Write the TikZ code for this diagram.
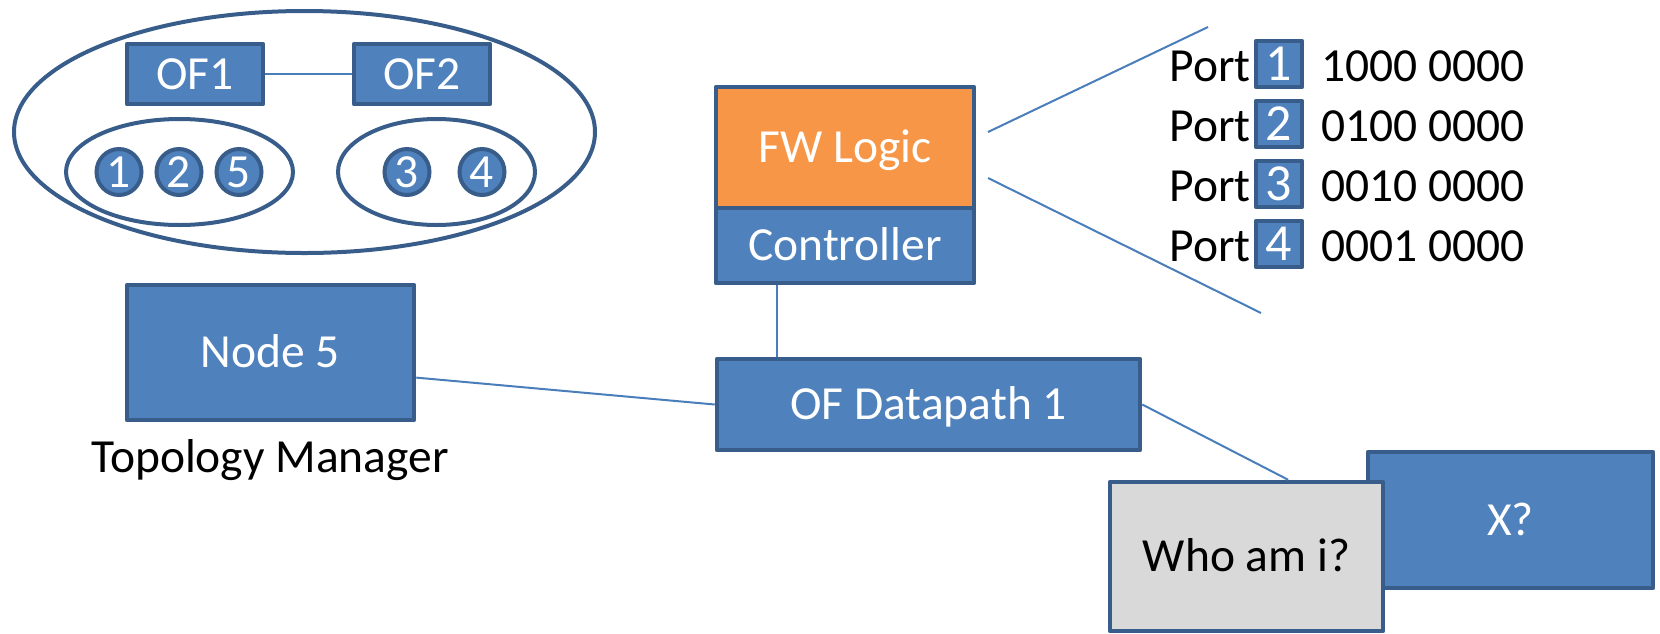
\documentclass[tikz,border=0pt]{standalone}
\usepackage{fontspec}
\setmainfont{Carlito}
\usetikzlibrary{shapes.geometric,calc}
\definecolor{ofblue}{HTML}{4F81BD}
\definecolor{bord}{HTML}{385D8A}
\definecolor{lnblue}{HTML}{4A7EBB}
\definecolor{fworange}{HTML}{F79646}
\definecolor{whogray}{HTML}{D9D9D9}
\newcommand\bigtxt{\fontsize{47.5}{57}\selectfont}
\newcommand\digtxt{\fontsize{52}{62}\selectfont}
\begin{document}
\begin{tikzpicture}[x=1pt,y=-1pt,
  ofbox/.style={draw=bord, line width=4.5pt, line join=round, inner sep=0pt, font=\bigtxt, text height=30.6pt, text depth=0pt},
  bluebox/.style={ofbox, fill=ofblue, text=white},
  ring/.style={ellipse, draw=bord, line width=4pt, inner sep=0pt},
  numdot/.style={ellipse, draw=bord, fill=ofblue, line width=4pt, inner sep=0pt, minimum width=45pt, minimum height=46pt, text=white, font=\bigtxt, text height=30pt, text depth=0pt},
  conn/.style={draw=lnblue, line width=2pt},
  plaintxt/.style={inner sep=0pt, font=\bigtxt, text height=30.6pt, text depth=0pt},
  portbox/.style={bluebox, minimum width=46pt, minimum height=46pt, font=\digtxt, text height=33pt}
]
\useasboundingbox (0,0) rectangle (1660,633);

% topology ellipse group
\node[ring, minimum width=581pt, minimum height=242pt] (outer) at (304.5,132) {};
\node[ring, minimum width=227pt, minimum height=106pt] (grpA) at (179.5,172) {};
\node[ring, minimum width=197pt, minimum height=106pt] (grpB) at (436.5,172) {};
\node[numdot] (c1) at (119,172) {1};
\node[numdot] (c2) at (179,172) {2};
\node[numdot] (c5) at (239,172) {5};
\node[numdot] (c3) at (407,172) {3};
\node[numdot] (c4) at (482,172) {4};
\node[bluebox, minimum width=136pt, minimum height=60pt] (of1) at (195,74) {OF1};
\node[bluebox, minimum width=136pt, minimum height=60pt] (of2) at (422,74) {OF2};
\draw[conn] (of1.east) -- (of2.west);

% controller stack
\node[ofbox, fill=fworange, text=white, minimum width=258pt, minimum height=121pt] (fw) at (845,147.5) {FW Logic};
\node[bluebox, minimum width=258pt, minimum height=75pt] (ctrl) at (845,245.5) {Controller};

% zoom lines
\coordinate (za) at (988,132);
\coordinate (zb) at (1208,27);
\coordinate (zc) at (988,178);
\coordinate (zd) at (1261,313);
\draw[conn] (za) -- (zb);
\draw[conn] (zc) -- (zd);

% ports
\foreach \i/\y/\b in {1/64/{1000 0000},2/124/{0100 0000},3/184/{0010 0000},4/244/{0001 0000}}{
  \node[plaintxt, anchor=east] (pt\i) at (1251,\y+2) {Port};
  \node[portbox] (pb\i) at (1279,\y) {\i};
  \node[plaintxt, anchor=west] (bits\i) at (1321,\y+2) {\b};
}

% lower part
\node[bluebox, minimum width=287pt, minimum height=135pt] (n5) at (270.5,352.5) {Node 5};
\node[plaintxt] (tm) at (270,457.5) {Topology Manager};
\node[bluebox, minimum width=423pt, minimum height=91pt] (dp) at (928.5,404.5) {OF Datapath 1};
\coordinate (cx) at (777,0);
\draw[conn] (ctrl.south -| cx) -- (dp.north -| cx);
\draw[conn] ($(n5.north east)!0.68!(n5.south east)$) -- (dp.west);

\node[bluebox, minimum width=285pt, minimum height=136pt] (xq) at (1510.5,520) {X?};
\node[ofbox, fill=whogray, text=black, minimum width=273pt, minimum height=149pt] (who) at (1246.5,556.5) {Who am i?};
\draw[conn] (dp.east) -- ($(who.north west)!0.65!(who.north east)$);
\end{tikzpicture}
\end{document}
